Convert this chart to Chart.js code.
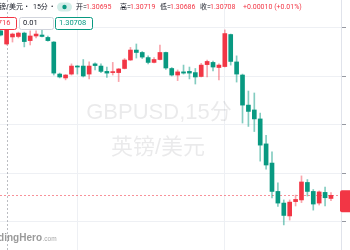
<!DOCTYPE html>
<html>
<head>
<meta charset="utf-8">
<script src="https://cdn.jsdelivr.net/npm/chart.js@4"></script>
<style>
  html, body { margin: 0; padding: 0; background: #fff; }
  #wrap { width: 350px; height: 250px; position: relative; }
</style>
</head>
<body>
<div id="wrap"><canvas id="chart"></canvas></div>
<script>
"use strict";

// GBPUSD 15 min candles, oldest first
const opens = [1.31386, 1.31332, 1.31361, 1.31363, 1.31377, 1.31346, 1.31365, 1.31369, 1.31359, 1.31340,
  1.31208, 1.31192, 1.31208, 1.31241, 1.31241, 1.31208, 1.31250, 1.31241, 1.31219, 1.31214,
  1.31214, 1.31231, 1.31266, 1.31307, 1.31297, 1.31276, 1.31256, 1.31268, 1.31297, 1.31231,
  1.31204, 1.31217, 1.31219, 1.31214, 1.31198, 1.31247, 1.31256, 1.31235, 1.31239, 1.31371,
  1.31258, 1.31204, 1.31080, 1.31060, 1.31023, 1.30920, 1.30841, 1.30724, 1.30676, 1.30623,
  1.30682, 1.30689, 1.30761, 1.30724, 1.30676, 1.30720, 1.30695];
const highs = [1.31398, 1.31398, 1.31377, 1.31381, 1.31381, 1.31386, 1.31386, 1.31390, 1.31365, 1.31342,
  1.31212, 1.31206, 1.31250, 1.31243, 1.31268, 1.31258, 1.31254, 1.31250, 1.31237, 1.31256,
  1.31231, 1.31272, 1.31318, 1.31332, 1.31301, 1.31283, 1.31276, 1.31328, 1.31299, 1.31235,
  1.31225, 1.31245, 1.31237, 1.31231, 1.31252, 1.31266, 1.31262, 1.31250, 1.31390, 1.31373,
  1.31283, 1.31208, 1.31138, 1.31130, 1.31047, 1.30955, 1.30887, 1.30759, 1.30689, 1.30689,
  1.30709, 1.30788, 1.30773, 1.30732, 1.30726, 1.30742, 1.30719];
const lows = [1.31365, 1.31328, 1.31340, 1.31357, 1.31320, 1.31328, 1.31357, 1.31361, 1.31344, 1.31204,
  1.31192, 1.31184, 1.31204, 1.31208, 1.31196, 1.31188, 1.31225, 1.31214, 1.31194, 1.31204,
  1.31177, 1.31229, 1.31264, 1.31274, 1.31272, 1.31250, 1.31254, 1.31266, 1.31227, 1.31200,
  1.31181, 1.31208, 1.31188, 1.31167, 1.31196, 1.31196, 1.31221, 1.31184, 1.31237, 1.31245,
  1.31175, 1.31006, 1.30992, 1.30971, 1.30849, 1.30816, 1.30697, 1.30662, 1.30586, 1.30606,
  1.30664, 1.30678, 1.30705, 1.30647, 1.30668, 1.30664, 1.30686];
const closes = [1.31369, 1.31390, 1.31373, 1.31377, 1.31342, 1.31365, 1.31373, 1.31363, 1.31346, 1.31212,
  1.31196, 1.31204, 1.31241, 1.31237, 1.31200, 1.31241, 1.31243, 1.31219, 1.31212, 1.31217,
  1.31229, 1.31266, 1.31307, 1.31297, 1.31278, 1.31256, 1.31268, 1.31297, 1.31233, 1.31204,
  1.31217, 1.31212, 1.31212, 1.31196, 1.31245, 1.31260, 1.31237, 1.31245, 1.31375, 1.31260,
  1.31208, 1.31080, 1.31054, 1.31023, 1.30915, 1.30833, 1.30724, 1.30676, 1.30625, 1.30680,
  1.30691, 1.30763, 1.30724, 1.30672, 1.30722, 1.30698, 1.30708];

const priceTicks = [1.306, 1.308, 1.310, 1.312, 1.314];
const timeTicks = [13, 38];
const crosshairBar = 1;

const upColor = "#F23645";
const downColor = "#089981";
const upWick = "rgba(242,54,69,0.45)";
const downWick = "rgba(8,153,129,0.5)";

const bodies = [];
const wicks = [];
const bodyColors = [];
const wickColors = [];
for (let i = 0; i < opens.length; i++) {
  const up = closes[i] >= opens[i];
  bodies.push({ x: i, y: [Math.min(opens[i], closes[i]), Math.max(opens[i], closes[i])] });
  wicks.push({ x: i, y: [lows[i], highs[i]] });
  bodyColors.push(up ? upColor : downColor);
  wickColors.push(up ? upWick : downWick);
}

const last = opens.length - 1;
const lastPrice = closes[last];
const headFont = "7px Roboto, 'Noto Sans CJK SC', sans-serif";

function seg(ctx, text, x, y, color) {
  ctx.fillStyle = color;
  ctx.fillText(text, x, y);
  return x + ctx.measureText(text).width;
}

function box(ctx, x, y, w, h, stroke) {
  ctx.beginPath();
  ctx.roundRect(x + 0.5, y + 0.5, w, h, 2);
  ctx.fillStyle = "#fff";
  ctx.fill();
  ctx.strokeStyle = stroke;
  ctx.lineWidth = 1;
  ctx.stroke();
}

const overlay = {
  id: "overlay",
  beforeDatasetsDraw(chart) {
    const ctx = chart.ctx;
    const area = chart.chartArea;
    const yScale = chart.scales.y;

    ctx.save();
    ctx.fillStyle = "rgba(19,23,34,0.09)";
    ctx.font = "22px 'Liberation Sans', 'Noto Sans CJK SC', sans-serif";
    ctx.textAlign = "center";
    ctx.textBaseline = "middle";
    ctx.fillText("GBPUSD,15分", 159, 113);
    ctx.fillText("英镑/美元", 158, 148);

    const py = Math.round(yScale.getPixelForValue(lastPrice)) + 0.5;
    ctx.strokeStyle = "rgba(242,54,69,0.55)";
    ctx.lineWidth = 1;
    ctx.setLineDash([2, 2]);
    ctx.beginPath();
    ctx.moveTo(area.left, py);
    ctx.lineTo(area.right, py);
    ctx.stroke();

    const cx = Math.round(chart.scales.x.getPixelForValue(crosshairBar)) + 0.5;
    ctx.strokeStyle = "rgba(120,123,134,0.5)";
    ctx.beginPath();
    ctx.moveTo(cx, area.top);
    ctx.lineTo(cx, area.bottom);
    ctx.stroke();
    ctx.restore();
  },
  afterDraw(chart) {
    const ctx = chart.ctx;
    const yScale = chart.scales.y;
    ctx.save();

    // price label on the axis
    const py = yScale.getPixelForValue(lastPrice);
    ctx.beginPath();
    ctx.roundRect(340, py - 5, 14, 22, 2);
    ctx.fillStyle = closes[last] >= opens[last] ? upColor : downColor;
    ctx.fill();

    // header line
    ctx.font = headFont;
    ctx.textBaseline = "middle";
    ctx.textAlign = "right";
    seg(ctx, "英镑/美元", 23, 7, "#131722");
    ctx.textAlign = "left";
    seg(ctx, "•", 25.5, 7, "#131722");
    seg(ctx, "15分", 33, 7, "#131722");
    seg(ctx, "•", 51, 7, "#131722");

    ctx.beginPath();
    ctx.roundRect(57, 2.5, 15, 9, 4.5);
    ctx.fillStyle = "rgba(8,153,129,0.18)";
    ctx.fill();
    ctx.beginPath();
    ctx.arc(64.5, 7, 2.2, 0, Math.PI * 2);
    ctx.fillStyle = downColor;
    ctx.fill();

    const change = closes[last] - closes[last - 1];
    const pct = change / closes[last - 1] * 100;
    seg(ctx, "开=", 76, 7, "#131722");
    seg(ctx, opens[last].toFixed(5), 86, 7, upColor);
    seg(ctx, "高=", 120, 7, "#131722");
    seg(ctx, highs[last].toFixed(5), 130, 7, upColor);
    seg(ctx, "低=", 160, 7, "#131722");
    seg(ctx, lows[last].toFixed(5), 170, 7, upColor);
    seg(ctx, "收=", 200, 7, "#131722");
    seg(ctx, closes[last].toFixed(5), 210, 7, upColor);
    seg(ctx, "+" + change.toFixed(5) + " (+" + pct.toFixed(2) + "%)", 243, 7, upColor);

    // second header row
    ctx.font = "7.5px Roboto, sans-serif";
    box(ctx, -20, 17, 36, 12, upColor);
    box(ctx, 19, 17, 34, 12, "#d1d4dc");
    box(ctx, 55, 17, 37, 12, downColor);
    ctx.textAlign = "right";
    seg(ctx, "1.30716", 10.5, 23.5, upColor);
    ctx.textAlign = "left";
    seg(ctx, "0.01", 23, 23.5, "#131722");
    seg(ctx, "1.30708", 59, 23.5, downColor);

    // logo
    ctx.textBaseline = "alphabetic";
    ctx.textAlign = "right";
    ctx.font = "bold 10px 'Liberation Sans', sans-serif";
    seg(ctx, "TradingHero", 42, 240.5, "#9a9a9a");
    ctx.textAlign = "left";
    ctx.font = "6.5px 'Liberation Sans', sans-serif";
    seg(ctx, ".com", 42.5, 240.5, "#a8a8a8");
    ctx.restore();
  }
};

const ctxEl = document.getElementById("chart");
new Chart(ctxEl, {
  type: "bar",
  data: {
    datasets: [
      {
        data: wicks,
        backgroundColor: wickColors,
        barThickness: 1,
        grouped: false,
        order: 2
      },
      {
        data: bodies,
        backgroundColor: bodyColors,
        barThickness: 4,
        minBarLength: 1,
        grouped: false,
        order: 1
      }
    ]
  },
  options: {
    responsive: true,
    maintainAspectRatio: false,
    animation: false,
    layout: { padding: 0 },
    plugins: { legend: { display: false }, tooltip: { enabled: false } },
    scales: {
      x: {
        type: "linear",
        min: -0.119,
        max: 57.7,
        offset: false,
        grid: { color: "#eef0f4", drawTicks: false, offset: false },
        border: { display: false },
        ticks: { display: false },
        afterBuildTicks: (axis) => { axis.ticks = timeTicks.map(v => ({ value: v })); },
        afterFit: (axis) => { axis.height = 0; }
      },
      y: {
        position: "right",
        min: 1.304825,
        max: 1.315134,
        grid: { color: "#eef0f4", tickColor: "#9598a1", tickLength: 5 },
        border: { display: true, color: "#e0e3eb" },
        ticks: { display: false },
        afterBuildTicks: (axis) => { axis.ticks = priceTicks.map(v => ({ value: v })); },
        afterFit: (axis) => { axis.width = 9; }
      }
    }
  },
  plugins: [overlay]
});
</script>
</body>
</html>
